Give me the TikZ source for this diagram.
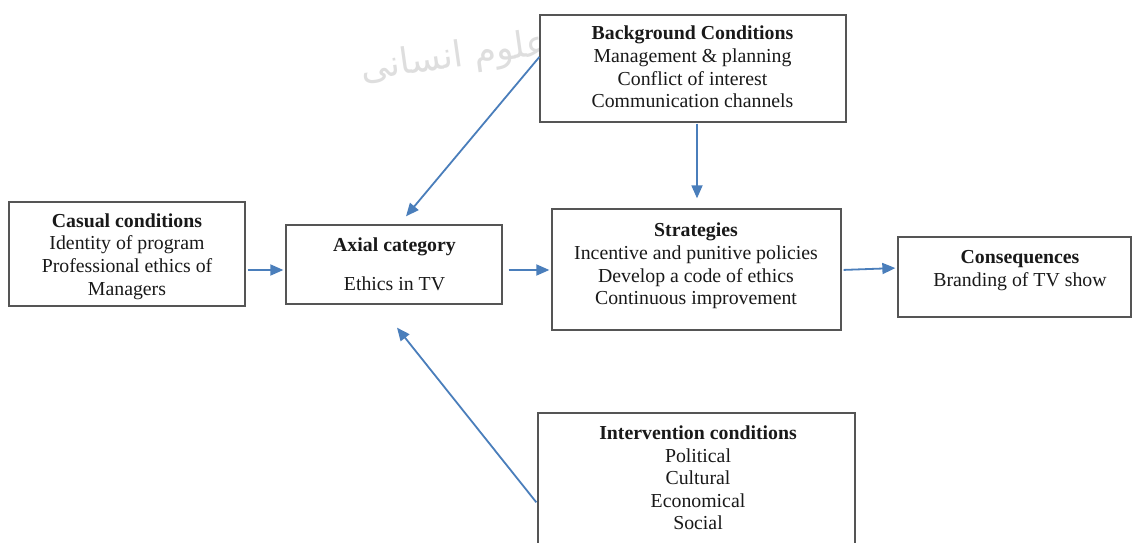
\documentclass[tikz,border=0pt]{standalone}
\usepackage{fontspec}
\setmainfont{Liberation Serif}
\newfontfamily\arabicfont[Script=Arabic]{DejaVu Sans}
\TeXXeTstate=1
\usetikzlibrary{arrows.meta}
\definecolor{arrblue}{HTML}{4A7EBB}
\definecolor{boxgray}{HTML}{555555}
\begin{document}
\begin{tikzpicture}[x=1pt,y=1pt,
  box/.style={draw=boxgray, line width=1.3pt, fill=white, inner sep=0pt},
  txt/.style={align=center, font=\fontsize{19.8}{22.6}\selectfont, text=black!90, inner sep=0pt},
  arr/.style={draw=arrblue, line width=1.8pt, -{Triangle[length=13pt,width=11pt]}},
  wm/.style={text=black!13, font=\arabicfont\fontsize{36}{40}\selectfont, inner sep=0pt}]
\useasboundingbox (0,0) rectangle (1132,543);
\fill[white] (0,0) rectangle (1132,543);
% watermark
\node[wm, anchor=east, rotate=8] (wmark) at (548,498) {\beginR علوم انسانی\endR};
% boxes
\node[box, minimum width=236pt, minimum height=104pt] (cas) at (127,289) {};
\node[box, minimum width=216pt, minimum height=79pt] (axi) at (394,278.5) {};
\node[box, minimum width=289pt, minimum height=121pt] (str) at (696.5,273.5) {};
\node[box, minimum width=233pt, minimum height=80pt] (con) at (1014.5,266) {};
\node[box, minimum width=306pt, minimum height=107pt] (bg) at (693,474.5) {};
\node[box, minimum width=317pt, minimum height=160pt] (int) at (696.5,50) {};
% texts
\node[txt] (cast) at (127,286.5) {\textbf{Casual conditions}\\Identity of program\\Professional ethics of\\Managers};
\node[txt] (axit) at (394.5,296.5) {\textbf{Axial category}};
\node[txt] (axie) at (394.5,259.5) {Ethics in TV};
\node[txt] (strt) at (696,277) {\textbf{Strategies}\\Incentive and punitive policies\\Develop a code of ethics\\Continuous improvement};
\node[txt] (cont) at (1020,272.5) {\textbf{Consequences}\\Branding of TV show};
\node[txt] (bgt) at (692.5,476) {\textbf{Background Conditions}\\Management \& planning\\Conflict of interest\\Communication channels};
\node[txt] (intt) at (698,65) {\textbf{Intervention conditions}\\Political\\Cultural\\Economical\\Social};
% connectors
\draw[arr, shorten <=2pt, shorten >=2pt] ([yshift=-16pt]cas.east) -- ([yshift=-5.5pt]axi.west);
\draw[arr, shorten <=6pt, shorten >=2pt] ([yshift=-5.5pt]axi.east) -- ([yshift=-0.5pt]str.west);
\draw[arr, shorten <=2pt, shorten >=2pt] ([yshift=-0.5pt]str.east) -- ([yshift=9pt]con.west);
\draw[arr] ([yshift=11.5pt]bg.west) -- ([xshift=12pt,yshift=8pt]axi.north);
\draw[arr, shorten <=1pt, shorten >=10pt] ([xshift=4pt]bg.south) -- ([xshift=0.5pt]str.north);
\draw[arr] ([xshift=-1pt,yshift=-90pt]int.north west) -- ([xshift=3pt,yshift=-23pt]axi.south);
\end{tikzpicture}
\end{document}
